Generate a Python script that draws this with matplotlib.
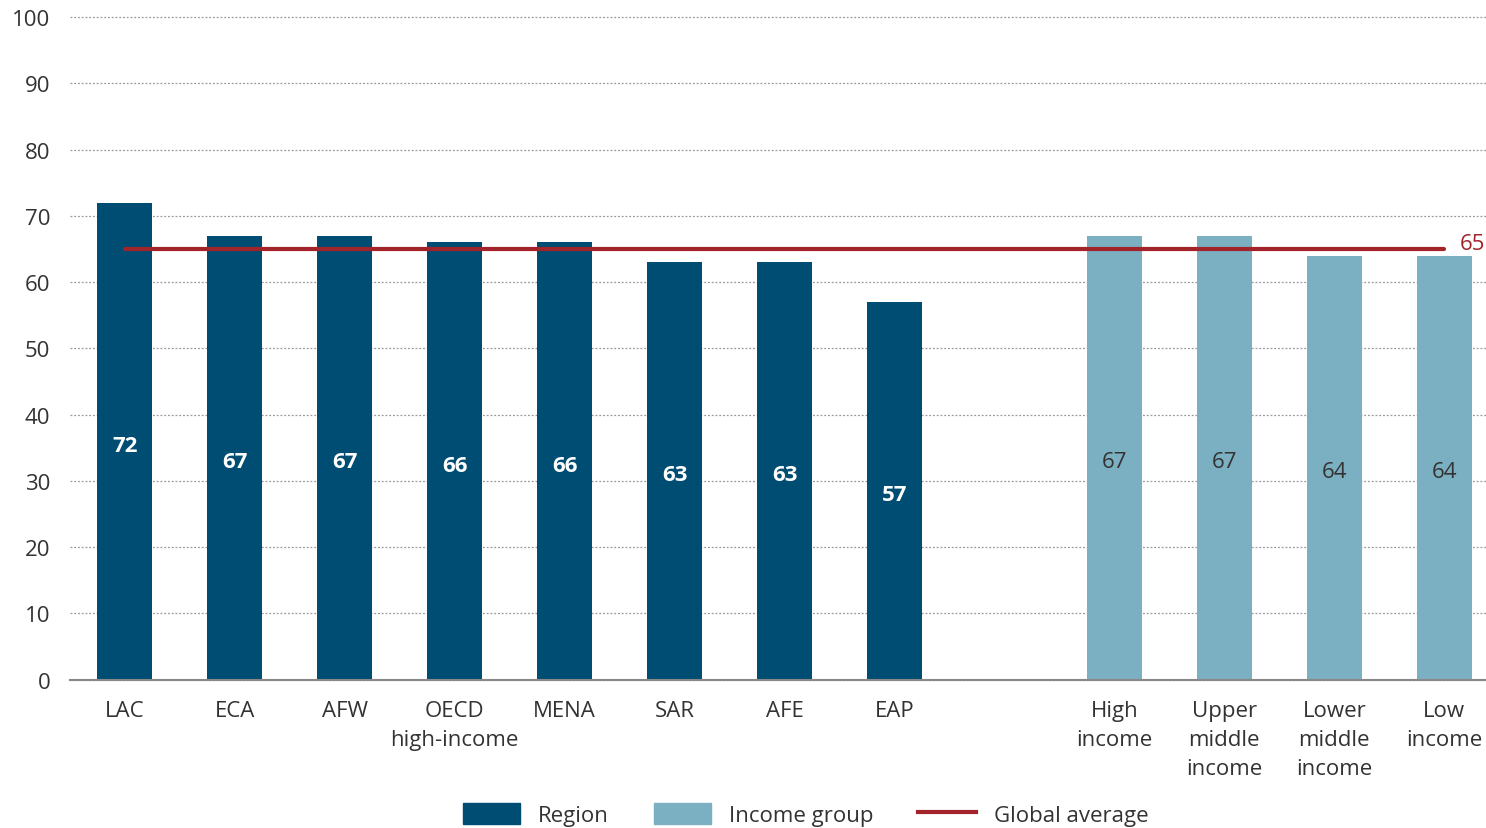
import numpy as np
import matplotlib

matplotlib.use('Agg')

import matplotlib.pyplot as plt
from matplotlib.patches import Patch
from matplotlib.lines import Line2D

plt.rcParams['font.family'] = ["Open Sans", "DejaVu Sans"]

regions = ["LAC", "ECA", "AFW", "OECD\nhigh-income", "MENA", "SAR", "AFE", "EAP"]
region_values = [72, 67, 67, 66, 66, 63, 63, 57]
income_groups = ["High\nincome", "Upper\nmiddle\nincome", "Lower\nmiddle\nincome", "Low\nincome"]
income_values = [67, 67, 64, 64]
global_average = 65

dark_blue = "#004D74"
light_blue = "#7BAFC2"
red = "#A3232B"
text_col = "#333333"

fig = plt.figure(figsize=(14.86, 8.29), dpi=100)
ax = fig.add_axes([0.047, 0.179, 0.953, 0.799])

x_reg = np.arange(len(regions))
x_inc = np.arange(len(income_groups)) + len(regions) + 1

ax.bar(x_reg, region_values, width=0.5, color=dark_blue, zorder=3)
ax.bar(x_inc, income_values, width=0.5, color=light_blue, zorder=3)

# value labels sit halfway up each bar
for x, v in zip(x_reg, region_values):
    ax.text(x, v / 2 - 0.6, str(v), ha="center", va="center", color="white",
            fontsize=16, fontweight="bold", zorder=4)
for x, v in zip(x_inc, income_values):
    ax.text(x, v / 2 - 0.6, str(v), ha="center", va="center", color=text_col,
            fontsize=16, zorder=4)

ax.plot([x_reg[0], x_inc[-1]], [global_average, global_average], color=red,
        lw=3, solid_capstyle="round", zorder=5)
ax.text(x_inc[-1] + 0.14, global_average + 0.9, str(global_average), color=red,
        fontsize=16, ha="left", va="center")

ax.set_xlim(-0.5, x_inc[-1] + 0.38)
ax.set_ylim(0, 100)
ax.set_yticks(range(0, 101, 10))
ax.set_xticks(list(x_reg) + list(x_inc))
ax.set_xticklabels(regions + income_groups, linespacing=1.5)
ax.tick_params(axis="both", length=0, labelsize=16, labelcolor=text_col)
ax.tick_params(axis="y", pad=14)
ax.tick_params(axis="x", pad=15)

ax.grid(axis="y", linestyle=(0, (1.5, 1.5)), color="#999999", lw=0.9, zorder=0)
for s in ["top", "right", "left"]:
    ax.spines[s].set_visible(False)
ax.spines["bottom"].set_color("#888888")
ax.spines["bottom"].set_linewidth(1.5)
ax.spines["bottom"].set_zorder(4)
for gl in ax.yaxis.get_gridlines():
    gl.set_clip_on(False)

handles = [Patch(color=dark_blue, label="Region"),
           Patch(color=light_blue, label="Income group"),
           Line2D([0], [0], color=red, lw=3, label="Global average")]
fig.legend(handles=handles, loc="center", bbox_to_anchor=(0.542, 0.016), ncol=3,
           frameon=False, fontsize=16, handlelength=2.6, handleheight=1.1,
           columnspacing=2.0, handletextpad=0.8, labelcolor=text_col)

fig.savefig("out.png", dpi=100)
